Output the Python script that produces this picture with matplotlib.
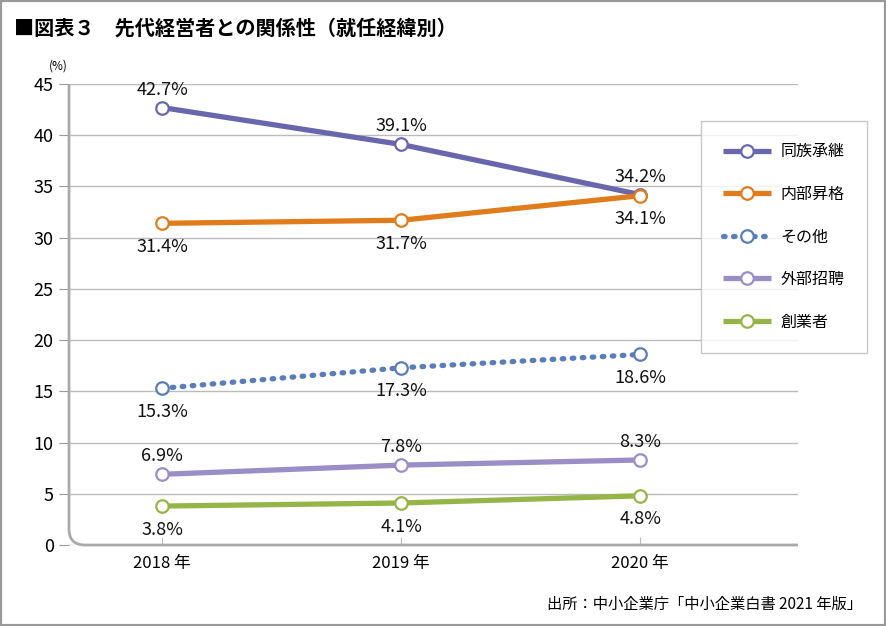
import matplotlib
matplotlib.use('Agg')
import matplotlib.pyplot as plt
from matplotlib.path import Path
from matplotlib.patches import PathPatch, Rectangle

plt.rcParams['font.family'] = ['Noto Sans CJK JP', 'DejaVu Sans']

years = ['2018 年', '2019 年', '2020 年']
names = ['同族承継', '内部昇格', 'その他', '外部招聘', '創業者']
dozoku = [42.7, 39.1, 34.2]
naibu = [31.4, 31.7, 34.1]
sonota = [15.3, 17.3, 18.6]
gaibu = [6.9, 7.8, 8.3]
sogyo = [3.8, 4.1, 4.8]
yticks = [0, 5, 10, 15, 20, 25, 30, 35, 40, 45]

series = [dozoku, naibu, sonota, gaibu, sogyo]
colors = ['#6a66ae', '#e07c1c', '#5a7db8', '#9a8ec6', '#96b548']
styles = ['-', '-', (0, (0.3, 1.6)), '-', '-']
caps = ['butt', 'butt', 'round', 'butt', 'butt']
# label offset in points: + above, - below
offsets = [
    [13, 13, 13],
    [-17, -17, -17],
    [-17, -17, -17],
    [13, 13, 13],
    [-17, -17, -17],
]

fig = plt.figure(figsize=(8.86, 6.26), dpi=100)
ax = fig.add_axes([69 / 886, 1 - 545 / 626, (798 - 69) / 886, (545 - 84) / 626])

x = list(range(len(years)))
for vals, name, c, ls, cap, offs in zip(series, names, colors, styles, caps, offsets):
    ax.plot(x, vals, color=c, lw=3.8, ls=ls, dash_capstyle=cap, solid_capstyle='butt',
            marker='o', ms=9, mfc='white', mec=c, mew=1.6, label=name, zorder=3)
    for xi, v, o in zip(x, vals, offs):
        ax.annotate(f'{v:.1f}%', (xi, v), xytext=(0, o), textcoords='offset points',
                    ha='center', va='center', fontsize=13, color='#111111', zorder=4)

ax.set_xlim(-0.39, 2.66)
ax.set_ylim(0, 45)
ax.set_yticks(yticks)
ax.set_xticks(x)
ax.set_xticklabels(years)
ax.grid(axis='y', color='#bbbbbb', lw=1)
ax.set_axisbelow(True)
for s in ax.spines.values():
    s.set_visible(False)
ax.tick_params(axis='y', length=7, color='#999999', labelsize=13, pad=4)
ax.tick_params(axis='x', direction='in', length=6, color='#bbbbbb', labelsize=12, pad=7)

# left/bottom axis with rounded corner
rx, ry = 16 / 729, 16 / 461
verts = [(0, 1), (0, ry), (0, 0), (rx, 0), (1, 0)]
codes = [Path.MOVETO, Path.LINETO, Path.CURVE3, Path.CURVE3, Path.LINETO]
ax.add_patch(PathPatch(Path(verts, codes), transform=ax.transAxes, fill=False,
                       edgecolor='#aaaaaa', lw=2, clip_on=False, zorder=2))

leg = ax.legend(loc='upper left', bbox_to_anchor=((701 - 69) / 729, (545 - 121) / 461),
                frameon=True, fancybox=False, edgecolor='#bbbbbb', fontsize=11.5,
                handlelength=3.0, labelspacing=1.6, borderpad=1.4, handletextpad=0.6,
                borderaxespad=0)
leg.get_frame().set_linewidth(1)

fig.text(14 / 886, 1 - 28 / 626, '■図表３　先代経営者との関係性（就任経緯別）',
         fontsize=14.5, fontweight='bold', va='center', ha='left')
fig.text(58 / 886, 1 - 66 / 626, '(%)', fontsize=8.5, va='center', ha='center')
fig.text(862 / 886, 1 - 604 / 626, '出所：中小企業庁「中小企業白書 2021 年版」',
         fontsize=11, va='center', ha='right')

fig.patches.append(Rectangle((0, 0), 1, 1, transform=fig.transFigure, fill=False,
                             edgecolor='#999999', lw=3))

fig.savefig('out.png', dpi=100)
